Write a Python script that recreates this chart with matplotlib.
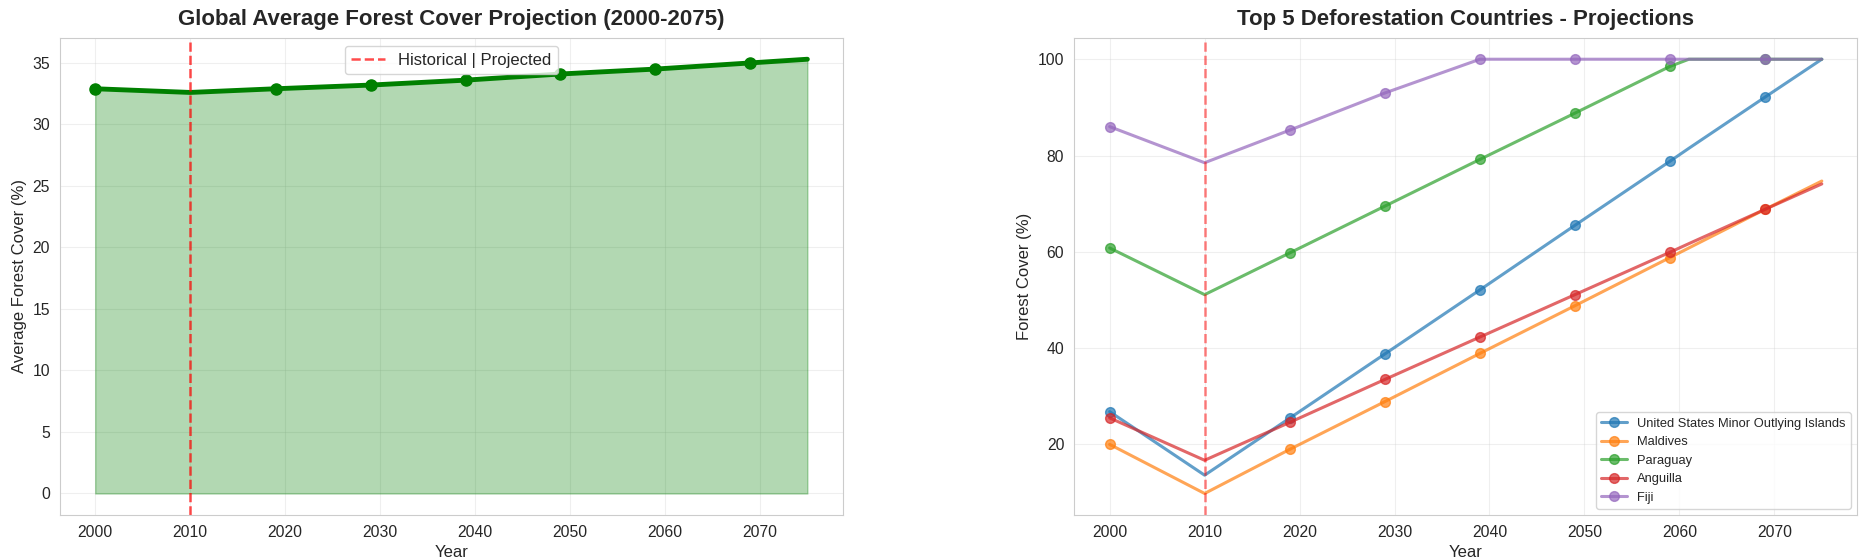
import matplotlib
matplotlib.use('Agg')
import matplotlib.pyplot as plt
import seaborn as sns

# global average forest cover (%)
global_years = [2000, 2010, 2019, 2029, 2039, 2049, 2059, 2069, 2075]
global_cover = [32.9, 32.6, 32.9, 33.2, 33.6, 34.1, 34.5, 35.0, 35.3]
global_marked = [0, 2, 3, 4, 5, 6, 7]

# top 5 countries (%), 2061 is where Paraguay hits the 100% cap
country_years = [2000, 2010, 2019, 2029, 2039, 2049, 2059, 2061, 2069, 2075]
country_marked = [0, 2, 3, 4, 5, 6, 8]
countries = ['United States Minor Outlying Islands', 'Maldives', 'Paraguay', 'Anguilla', 'Fiji']
usmoi = [26.8, 13.6, 25.5, 38.8, 52.1, 65.5, 78.8, 81.5, 92.1, 100.0]
maldives = [20.0, 9.8, 19.0, 28.9, 38.9, 48.8, 58.8, 60.8, 68.8, 74.7]
paraguay = [60.8, 51.1, 59.8, 69.5, 79.2, 88.8, 98.5, 100.0, 100.0, 100.0]
anguilla = [25.5, 16.7, 24.6, 33.5, 42.3, 51.1, 59.9, 61.7, 68.8, 74.1]
fiji = [86.0, 78.5, 85.3, 93.0, 100.0, 100.0, 100.0, 100.0, 100.0, 100.0]
country_values = [usmoi, maldives, paraguay, anguilla, fiji]

split_year = 2010

sns.set_style('whitegrid')
plt.rcParams['font.family'] = ['Liberation Sans', 'DejaVu Sans']

fig, (ax1, ax2) = plt.subplots(1, 2, figsize=(18.63, 5.6), dpi=100)
fig.subplots_adjust(left=0.032, right=0.997, top=0.933, bottom=0.08, wspace=0.295)

# left: global average
ax1.plot(global_years, global_cover, color='green', linewidth=3.5, marker='o',
         markersize=8, markevery=global_marked)
ax1.fill_between(global_years, global_cover, 0, color='green', alpha=0.3)
ax1.axvline(split_year, color='red', linestyle='--', alpha=0.7, linewidth=1.8,
            label='Historical | Projected')
ax1.set_title('Global Average Forest Cover Projection (2000-2075)', fontsize=16,
              fontweight='bold', pad=9)
ax1.set_xlabel('Year', fontsize=12)
ax1.set_ylabel('Average Forest Cover (%)', fontsize=12)
ax1.legend(loc='upper center', fontsize=12)
ax1.grid(True, alpha=0.3)

# right: countries
for name, vals in zip(countries, country_values):
    ax2.plot(country_years, vals, marker='o', markersize=7, linewidth=2.2, alpha=0.7,
             markevery=country_marked, label=name)
ax2.axvline(split_year, color='red', linestyle='--', alpha=0.5, linewidth=1.8)
ax2.set_title('Top 5 Deforestation Countries - Projections', fontsize=16,
              fontweight='bold', pad=9)
ax2.set_xlabel('Year', fontsize=12)
ax2.set_ylabel('Forest Cover (%)', fontsize=12)
ax2.legend(loc='lower right', fontsize=9.3)
ax2.grid(True, alpha=0.3)

for ax in (ax1, ax2):
    ax.tick_params(labelsize=11.3)

plt.savefig('out.png', dpi=100)
